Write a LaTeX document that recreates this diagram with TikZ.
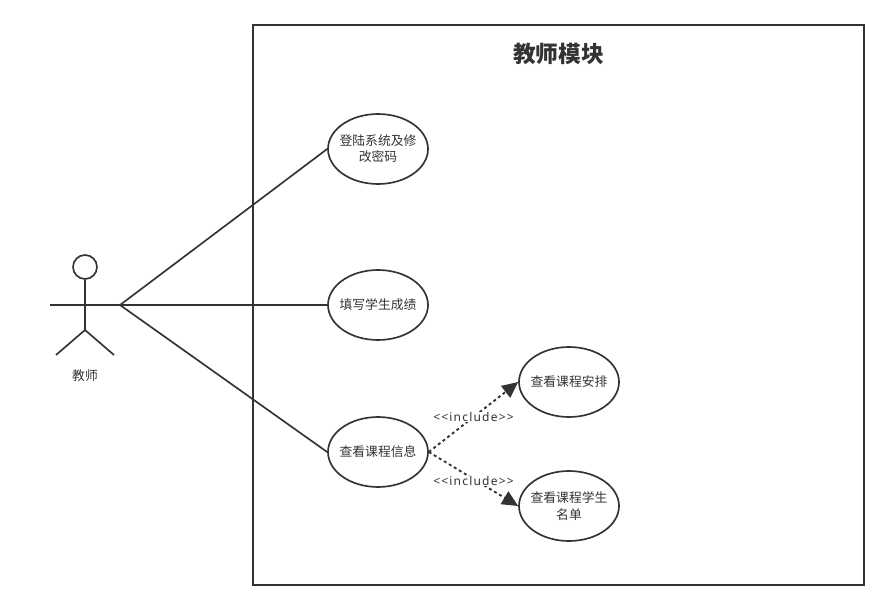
\documentclass[tikz,border=0pt]{standalone}
\usepackage{fontspec}
\setmainfont{Noto Sans CJK SC}
\newfontfamily\spaced[LetterSpace=10]{Noto Sans}
\usetikzlibrary{arrows.meta,shapes.geometric}
\definecolor{ink}{HTML}{333333}
\tikzset{
  x=0.75pt,y=-0.75pt,
  line/.style={draw=ink,line width=1.25pt},
  usecase/.style={ellipse,line,minimum width=75pt,minimum height=52.5pt,inner xsep=-5pt,inner ysep=0pt,align=center,font=\fontsize{9.6pt}{12.2pt}\selectfont,text=ink},
  incl/.style={line,dash pattern=on 2.2pt off 2.2pt,line width=1.4pt,-{Triangle[length=12pt,width=11pt]}},
  incllabel/.style={fill=white,inner sep=0.6pt,font=\spaced\fontsize{9pt}{10pt}\selectfont,text=ink},
}
\begin{document}
\begin{tikzpicture}
\useasboundingbox (0,0) rectangle (889,610);
\node[line,rectangle,minimum width=458.25pt,minimum height=420pt,inner sep=0pt] (module) at (558.5,305) {};
\node[font=\fontsize{17pt}{20pt}\selectfont\bfseries,text=ink] (title) at (558.5,54) {教师模块};
% actor
\node[line,circle,minimum size=18pt,inner sep=0pt] (head) at (85,267) {};
\coordinate (hip) at (85,330);
\coordinate (armL) at (50,305);
\coordinate (armR) at (120,305);
\coordinate (legL) at (56,355);
\coordinate (legR) at (114,355);
\draw[line] (head.south) -- (hip);
\draw[line] (armL) -- (armR);
\draw[line] (legL) -- (hip) -- (legR);
\node[font=\fontsize{9.6pt}{12pt}\selectfont,text=ink] (actor) at (85,376) {教师};
% use cases
\node[usecase] (login) at (378,149) {登陆系统及修\\改密码};
\node[usecase] (grade) at (378,305) {填写学生成绩};
\node[usecase] (course) at (378,452) {查看课程信息};
\node[usecase] (plan) at (569,382) {查看课程安排};
\node[usecase] (list) at (569,506) {查看课程学生\\名单};
% connectors
\draw[line] (armR) -- (login.west);
\draw[line] (armR) -- (grade.west);
\draw[line] (armR) -- (course.west);
\draw[incl] (course.east) -- (plan.west);
\draw[incl] (course.east) -- (list.west);
\node[incllabel] (l1) at (473.5,417) {<{}<include>{}>};
\node[incllabel] (l2) at (473.5,481) {<{}<include>{}>};
\end{tikzpicture}
\end{document}
